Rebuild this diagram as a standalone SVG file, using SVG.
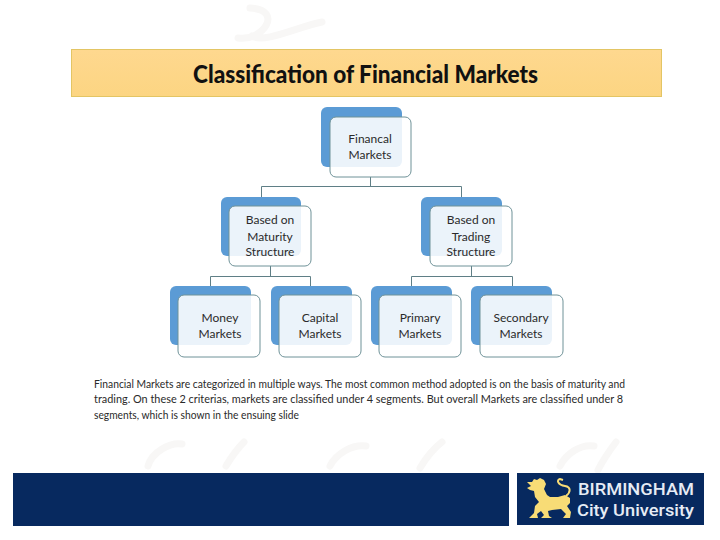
<svg xmlns="http://www.w3.org/2000/svg" width="720" height="540" viewBox="0 0 720 540">
<defs>
<linearGradient id="band" x1="0" y1="0" x2="0" y2="1"><stop offset="0" stop-color="#fed88f"/><stop offset="1" stop-color="#fcd582"/></linearGradient>
</defs>
<style>
.back{fill:#5b9bd5}
.front{fill:#fff;fill-opacity:.88;stroke:#6f9298;stroke-width:1}
.line{fill:none;stroke:#5f7f86;stroke-width:1}
.lbl{font-family:Lato,"Liberation Sans",sans-serif;font-size:12px;fill:#2a2a2a;text-anchor:middle}
.body{font-family:Lato,"Liberation Sans",sans-serif;font-size:10.800px;fill:#2a2a2a}
.wm{fill:none;stroke:#f8f7f6;stroke-width:7;stroke-linecap:round}
.logo{font-family:Roboto,"Liberation Sans",sans-serif;font-weight:500;font-size:17px;fill:#e6ecf5}
</style>
<rect width="720" height="540" fill="#fff"/>
<g id="watermarks">
<path class="wm" d="M250 8C285 10 262 42 238 38M322 22C300 26 264 44 252 36"/>
<path class="wm" d="M148 466C152 452 170 442 182 444M226 466C232 456 238 448 244 442"/>
<path class="wm" d="M330 466C336 454 352 444 366 446M420 468C426 458 434 448 442 442"/>
<path class="wm" d="M560 466C566 454 580 444 594 446M598 470C604 458 610 450 616 442"/>
</g>
<g id="title">
<rect x="71.500" y="49.500" width="590" height="47" fill="url(#band)" stroke="#e3c564"/>
<text x="193" y="83" font-family="Lato,'Liberation Sans',sans-serif" font-weight="900" font-size="25px" fill="#111" textLength="345" lengthAdjust="spacingAndGlyphs">Classification of Financial Markets</text>
</g>
<g id="connectors">
<path class="line" d="M370.500 177V186.500M261.500 197V186.500H461.500V197"/>
<path class="line" d="M270.500 266V276.500M210.500 286V276.500H310.500V286"/>
<path class="line" d="M471.500 266V276.500M411.500 286V276.500H512.500V286"/>
</g>
<g id="node-financial">
<rect class="back" x="321" y="107" width="81" height="60" rx="6"/>
<rect class="front" x="330" y="117" width="81" height="60" rx="6"/>
<text class="lbl" x="370" y="143">Financal</text><text class="lbl" x="370" y="158.500">Markets</text>
</g>
<g id="node-maturity">
<rect class="back" x="221" y="197" width="80" height="59" rx="6"/>
<rect class="front" x="229" y="206" width="82" height="60" rx="6"/>
<text class="lbl" x="270" y="224">Based on</text><text class="lbl" x="270" y="241">Maturity</text><text class="lbl" x="270" y="256">Structure</text>
</g>
<g id="node-trading">
<rect class="back" x="421" y="197" width="81" height="59" rx="6"/>
<rect class="front" x="430" y="206" width="82" height="60" rx="6"/>
<text class="lbl" x="471" y="224">Based on</text><text class="lbl" x="471" y="241">Trading</text><text class="lbl" x="471" y="256">Structure</text>
</g>
<g id="node-money">
<rect class="back" x="170" y="286" width="81" height="59" rx="6"/>
<rect class="front" x="178" y="295" width="82" height="62" rx="6"/>
<text class="lbl" x="220" y="322">Money</text><text class="lbl" x="220" y="338">Markets</text>
</g>
<g id="node-capital">
<rect class="back" x="271" y="286" width="81" height="59" rx="6"/>
<rect class="front" x="279" y="295" width="82" height="62" rx="6"/>
<text class="lbl" x="320" y="322">Capital</text><text class="lbl" x="320" y="338">Markets</text>
</g>
<g id="node-primary">
<rect class="back" x="371" y="286" width="81" height="59" rx="6"/>
<rect class="front" x="379" y="295" width="82" height="62" rx="6"/>
<text class="lbl" x="420" y="322">Primary</text><text class="lbl" x="420" y="338">Markets</text>
</g>
<g id="node-secondary">
<rect class="back" x="471" y="286" width="81" height="59" rx="6"/>
<rect class="front" x="480" y="295" width="83" height="62" rx="6"/>
<text class="lbl" x="521" y="322">Secondary</text><text class="lbl" x="521" y="338">Markets</text>
</g>
<g id="description">
<text class="body" x="94" y="388" textLength="531" lengthAdjust="spacingAndGlyphs">Financial Markets are categorized in multiple ways. The most common method adopted is on the basis of maturity and</text>
<text class="body" x="94" y="403" textLength="529" lengthAdjust="spacingAndGlyphs">trading. On these 2 criterias, markets are classified under 4 segments. But overall Markets are classified under 8</text>
<text class="body" x="94" y="419" textLength="205" lengthAdjust="spacingAndGlyphs">segments, which is shown in the ensuing slide</text>
</g>
<g id="footer">
<rect x="13" y="473" width="496" height="53" fill="#07295f"/>
<rect x="517" y="473" width="187" height="52" fill="#07295f"/>
<path fill="#f8dc76" d="M527 482L532 482L534 479L537 480L540 478L544 480L546 484L544 489L547 495L550 497L558 497L565 495L570 498L570 503L567 506L571 512L570 518L563 518L566 514L561 509L552 510L548 511L549 516L552 518L541 518L544 515L541 511L537 514L538 518H529L534 513L535 506L539 502L535 497L534 491L530 490L527 488L531 486Z"/>
<path fill="none" stroke="#f8dc76" stroke-width="2" d="M566 496C571 492 571 487 565 486C558 485 556 480 560 479L563 480"/>
<text class="logo" x="578" y="495" textLength="116" lengthAdjust="spacingAndGlyphs">BIRMINGHAM</text>
<text class="logo" x="577" y="516" textLength="117" lengthAdjust="spacingAndGlyphs">City University</text>
</g>
</svg>
